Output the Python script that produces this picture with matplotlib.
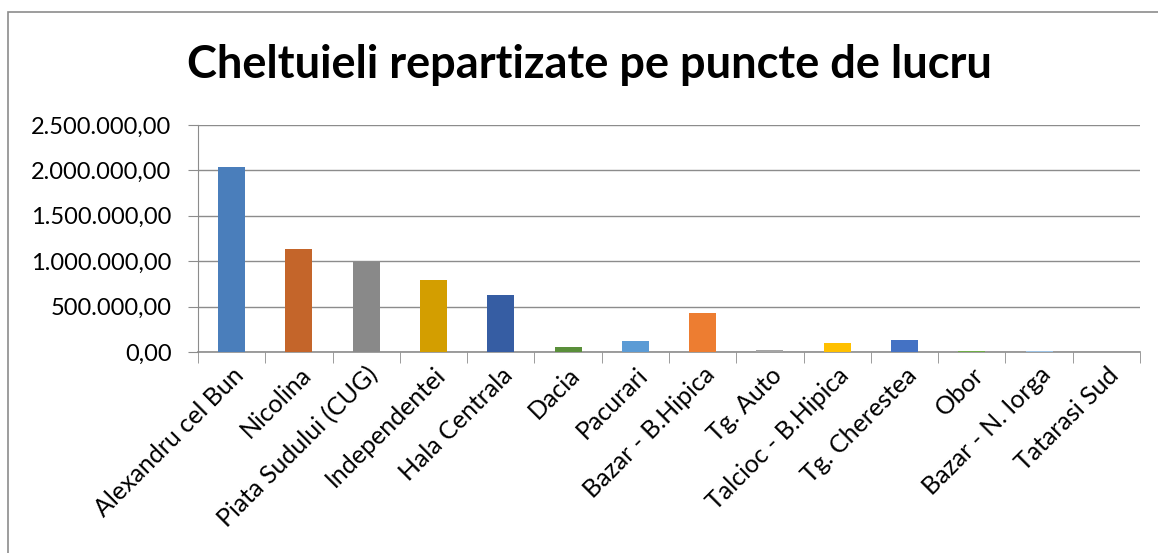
"""Cheltuieli repartizate pe puncte de lucru -> out.png"""

import matplotlib

matplotlib.use("Agg")
import matplotlib.pyplot as plt  # noqa: E402
import numpy as np  # noqa: E402
from matplotlib.patches import Rectangle  # noqa: E402
from matplotlib.ticker import FuncFormatter, MultipleLocator  # noqa: E402

puncte = ["Alexandru cel Bun", "Nicolina", "Piata Sudului (CUG)", "Independentei",
          "Hala Centrala", "Dacia", "Pacurari", "Bazar - B.Hipica", "Tg. Auto",
          "Talcioc - B.Hipica", "Tg. Cherestea", "Obor", "Bazar - N. Iorga",
          "Tatarasi Sud"]
cheltuieli = [2035000, 1134000, 992000, 793000, 628000, 52000, 118000, 430000,
              18000, 96000, 129000, 7000, 15000, 1000]
culori = ["#4A7EBB", "#C4652A", "#898989", "#D39E00", "#365DA3", "#5A8F3A",
          "#5B9BD5", "#ED7D31", "#A5A5A5", "#FFC000", "#4472C4", "#70AD47",
          "#9DC3E6", "#2E5C8A"]

plt.rcParams["font.family"] = ["Lato", "DejaVu Sans"]

fig = plt.figure(figsize=(11.58, 5.53), dpi=100)
fig.patches.append(Rectangle((8 / 1158, -0.1), 1.2, 1 - 12 / 553 + 0.1,
                             transform=fig.transFigure, fill=False,
                             edgecolor="#8c8c8c", lw=1.2))
ax = fig.add_axes([198 / 1158, 1 - 352 / 553, 942 / 1158, 227 / 553])

x = np.arange(len(puncte))
ax.bar(x, cheltuieli, width=0.4, color=culori, zorder=3)

ax.set_xlim(-0.5, len(puncte) - 0.5)
ax.set_ylim(0, 2500000)
ax.yaxis.set_major_locator(MultipleLocator(500000))


def fmt(v, _):
    s = f"{v:,.2f}"
    return s.replace(",", "X").replace(".", ",").replace("X", ".")


ax.yaxis.set_major_formatter(FuncFormatter(fmt))
ax.grid(axis="y", color="#8c8c8c", lw=1.0, zorder=0)
for s in ["top", "right"]:
    ax.spines[s].set_visible(False)
ax.spines["left"].set_color("#8c8c8c")
ax.spines["bottom"].set_color("#8c8c8c")
ax.spines["bottom"].set_linewidth(1.2)
ax.tick_params(axis="y", length=7, color="#8c8c8c", labelsize=17, pad=12)

ax.set_xticks(x)
ax.set_xticklabels(puncte, rotation=45, ha="right", rotation_mode="anchor",
                   fontsize=18)
ax.tick_params(axis="x", length=0, pad=8)
ax.set_xticks(np.arange(len(puncte) + 1) - 0.5, minor=True)
ax.tick_params(axis="x", which="minor", length=8, color="#8c8c8c")

fig.text(0.509, 1 - 65 / 553, "Cheltuieli repartizate pe puncte de lucru",
         ha="center", va="center", fontsize=32.5, fontweight="bold")

fig.savefig("out.png", dpi=100)
